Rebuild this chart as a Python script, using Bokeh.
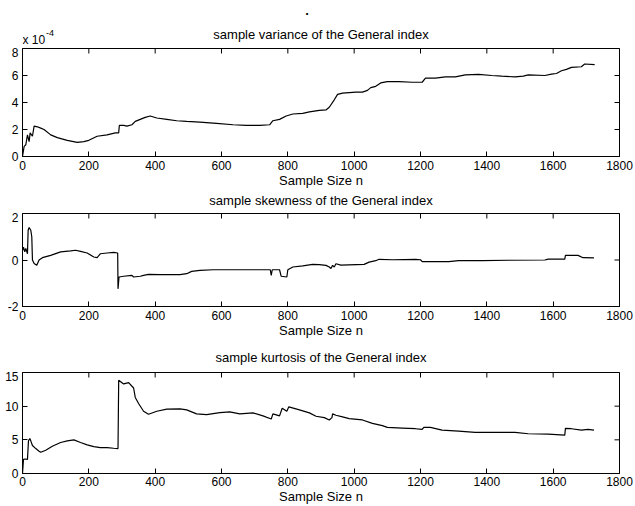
from bokeh.plotting import figure
from bokeh.models import Range1d, FixedTicker, Label
from bokeh.layouts import column
from bokeh.embed import file_html
from bokeh.resources import INLINE

FONT = "Liberation Sans"

# ---- data (sample size n, statistic) ----
x_ticks = [0, 200, 400, 600, 800, 1000, 1200, 1400, 1600, 1800]
x_label = "Sample Size n"
figure_mark = "."

variance_title = "sample variance of the General index"
variance_ticks = [0, 2, 4, 6, 8]
variance_scale = "x 10"
variance_exp = "-4"
variance = [(0, 0.0), (5, 0.75), (10, 0.87), (15, 1.6), (20, 1.1), (23, 1.75), (30, 1.5),
            (35, 2.25), (45, 2.2), (55, 2.1), (65, 2.0), (85, 1.6), (105, 1.4), (135, 1.2),
            (165, 1.05), (185, 1.1), (200, 1.2), (225, 1.5), (255, 1.6), (280, 1.75),
            (290, 1.75), (292, 2.3), (305, 2.3), (315, 2.25), (330, 2.35), (340, 2.6),
            (355, 2.75), (370, 2.9), (385, 3.0), (405, 2.85), (435, 2.75), (465, 2.65),
            (495, 2.6), (535, 2.55), (585, 2.45), (635, 2.35), (675, 2.3), (715, 2.3),
            (745, 2.35), (755, 2.65), (775, 2.75), (795, 3.0), (815, 3.15), (845, 3.2),
            (865, 3.3), (895, 3.42), (915, 3.45), (925, 3.65), (940, 4.2), (950, 4.6),
            (965, 4.7), (1005, 4.77), (1025, 4.77), (1040, 4.9), (1050, 5.1), (1065, 5.2),
            (1080, 5.45), (1100, 5.55), (1135, 5.55), (1175, 5.5), (1205, 5.5), (1215, 5.8),
            (1245, 5.8), (1275, 5.9), (1305, 5.9), (1335, 6.05), (1375, 6.08), (1415, 6.0),
            (1445, 5.95), (1485, 5.9), (1510, 5.95), (1525, 6.05), (1575, 6.0), (1595, 6.1),
            (1610, 6.15), (1625, 6.35), (1640, 6.45), (1655, 6.6), (1685, 6.65), (1695, 6.85),
            (1725, 6.8)]

skewness_title = "sample skewness of the General index"
skewness_ticks = [-2, 0, 2]
skewness = [(0, 0.4), (3, 0.55), (7, 0.35), (10, 0.5), (15, 0.27), (17, 1.28), (20, 1.4),
            (25, 1.28), (28, 1.0), (30, 0.0), (35, -0.15), (43, -0.23), (50, 0.0), (60, 0.1),
            (85, 0.2), (115, 0.35), (145, 0.39), (160, 0.42), (175, 0.37), (195, 0.3),
            (215, 0.13), (225, 0.1), (235, 0.27), (255, 0.3), (275, 0.33), (287, 0.3),
            (288, -1.24), (291, -0.73), (305, -0.7), (330, -0.66), (335, -0.73), (355, -0.7),
            (365, -0.66), (380, -0.62), (415, -0.63), (475, -0.63), (495, -0.59), (510, -0.49),
            (535, -0.45), (575, -0.42), (635, -0.42), (695, -0.42), (747, -0.42), (750, -0.66),
            (753, -0.42), (775, -0.42), (780, -0.7), (797, -0.73), (800, -0.42), (815, -0.3),
            (845, -0.25), (875, -0.19), (895, -0.2), (915, -0.23), (925, -0.3), (930, -0.37),
            (935, -0.23), (940, -0.3), (945, -0.16), (960, -0.22), (1030, -0.19), (1045, -0.09),
            (1065, -0.03), (1075, 0.03), (1115, 0.01), (1185, 0.03), (1200, 0.01), (1205, -0.07),
            (1285, -0.07), (1315, -0.03), (1385, -0.03), (1465, -0.01), (1575, 0.0), (1585, 0.04),
            (1635, 0.04), (1637, 0.2), (1675, 0.2), (1690, 0.1), (1723, 0.09)]

kurtosis_title = "sample kurtosis of the General index"
kurtosis_ticks = [0, 5, 10, 15]
kurtosis = [(0, 0.0), (3, 2.1), (7, 2.15), (15, 2.1), (18, 4.85), (22, 5.2), (25, 4.85),
            (30, 4.15), (40, 3.7), (50, 3.3), (55, 3.15), (70, 3.45), (90, 4.05), (115, 4.6),
            (135, 4.85), (155, 5.0), (175, 4.6), (195, 4.25), (215, 4.0), (235, 3.85),
            (255, 3.85), (275, 3.75), (288, 3.7), (290, 13.85), (305, 13.3), (320, 13.5),
            (335, 12.7), (340, 11.3), (350, 10.4), (365, 9.25), (380, 8.8), (405, 9.25),
            (435, 9.55), (475, 9.6), (495, 9.45), (525, 8.85), (555, 8.75), (595, 9.05),
            (625, 9.15), (655, 8.85), (695, 9.0), (725, 8.55), (750, 8.1), (755, 8.85),
            (775, 8.55), (783, 9.7), (797, 9.25), (803, 9.9), (835, 9.45), (865, 9.0),
            (885, 8.5), (910, 8.3), (925, 7.95), (933, 8.3), (935, 8.85), (945, 8.65),
            (965, 8.4), (985, 8.15), (1025, 7.95), (1055, 7.45), (1085, 7.1), (1100, 6.85),
            (1145, 6.75), (1185, 6.65), (1205, 6.55), (1210, 6.85), (1230, 6.85), (1265, 6.45),
            (1315, 6.3), (1365, 6.1), (1485, 6.1), (1525, 5.9), (1585, 5.85), (1635, 5.7),
            (1637, 6.7), (1655, 6.65), (1685, 6.45), (1705, 6.55), (1723, 6.45)]

W = 635
LEFT = 22
RIGHT = 16


def header(height):
    """Strip above a panel; its frame spans the strip so texts are not clipped.
    y is counted in pixels from the strip's top."""
    h = figure(width=W, height=height, output_backend="svg", toolbar_location=None,
               x_range=Range1d(0, 1800), y_range=Range1d(height, 0),
               x_axis_type=None, y_axis_type=None,
               min_border_left=LEFT, min_border_right=RIGHT,
               min_border_top=0, min_border_bottom=0)
    h.xgrid.visible = False
    h.ygrid.visible = False
    h.outline_line_color = None
    return h


def title_label(text, y):
    return Label(x=900, y=y, text=text, text_align="center", text_baseline="alphabetic",
                 text_font=FONT, text_font_size="13px", text_color="black")


def style_axis(ax, ticks, standoff):
    ax.ticker = FixedTicker(ticks=ticks)
    ax.axis_line_color = "black"
    ax.major_tick_line_color = "black"
    ax.major_tick_in = 5
    ax.major_tick_out = 0
    ax.minor_tick_line_color = None
    ax.major_label_text_font = FONT
    ax.major_label_text_font_size = "12px"
    ax.major_label_text_color = "black"
    ax.major_label_standoff = standoff
    ax.major_label_overrides = {t: str(t) for t in ticks}


def panel(height, bottom, ylo, yhi, yticks, data, tick_standoff=4, label_standoff=0):
    p = figure(width=W, height=height, output_backend="svg", toolbar_location=None,
               x_range=Range1d(0, 1800), y_range=Range1d(ylo, yhi),
               min_border_left=LEFT, min_border_right=RIGHT,
               min_border_top=1, min_border_bottom=bottom)
    p.xgrid.visible = False
    p.ygrid.visible = False
    p.outline_line_color = "black"
    style_axis(p.xaxis[0], x_ticks, tick_standoff)
    style_axis(p.yaxis[0], yticks, 4)
    ax = p.xaxis[0]
    ax.axis_label = x_label
    ax.axis_label_text_font = FONT
    ax.axis_label_text_font_size = "13px"
    ax.axis_label_text_font_style = "normal"
    ax.axis_label_text_color = "black"
    ax.axis_label_standoff = label_standoff
    # inward ticks on the top and right edges of the box (outer half of each dash is clipped)
    p.scatter(x_ticks, [yhi] * len(x_ticks), marker="dash", angle=1.5708, size=10,
              line_color="black", line_width=1)
    p.scatter([1800] * len(yticks), yticks, marker="dash", angle=0, size=10,
              line_color="black", line_width=1)
    p.line([d[0] for d in data], [d[1] for d in data], line_color="black", line_width=1.2)
    return p


# panel 1: header 0-47, box 48-155
h1 = header(47)
h1.add_layout(Label(x=858, y=10, text=figure_mark, text_align="center",
                    text_baseline="alphabetic", text_font=FONT, text_font_size="13px",
                    text_font_style="bold", text_color="black"))
h1.add_layout(title_label(variance_title, 33.5))
h1.add_layout(Label(x=0, y=39.5, text=variance_scale, text_align="left",
                    text_baseline="alphabetic", text_font=FONT, text_font_size="12px",
                    text_color="black"))
h1.add_layout(Label(x=71, y=32.5, text=variance_exp, text_align="left",
                    text_baseline="alphabetic", text_font=FONT, text_font_size="9px",
                    text_color="black"))
p1 = panel(143, 34, 0, 8, variance_ticks, variance)

# panel 2: header 190-212, box 213-306
h2 = header(22)
h2.add_layout(title_label(skewness_title, 9.7))
p2 = panel(128, 34, -2, 2, skewness_ticks, skewness)

# panel 3: header 340-371, box from 372
h3 = header(31)
h3.add_layout(title_label(kurtosis_title, 16.7))
p3 = panel(135, 30, 0, 15, kurtosis_ticks, kurtosis, tick_standoff=3, label_standoff=0)

layout = column(h1, p1, h2, p2, h3, p3, spacing=0)

open("out.html", "w").write(file_html(layout, INLINE))
